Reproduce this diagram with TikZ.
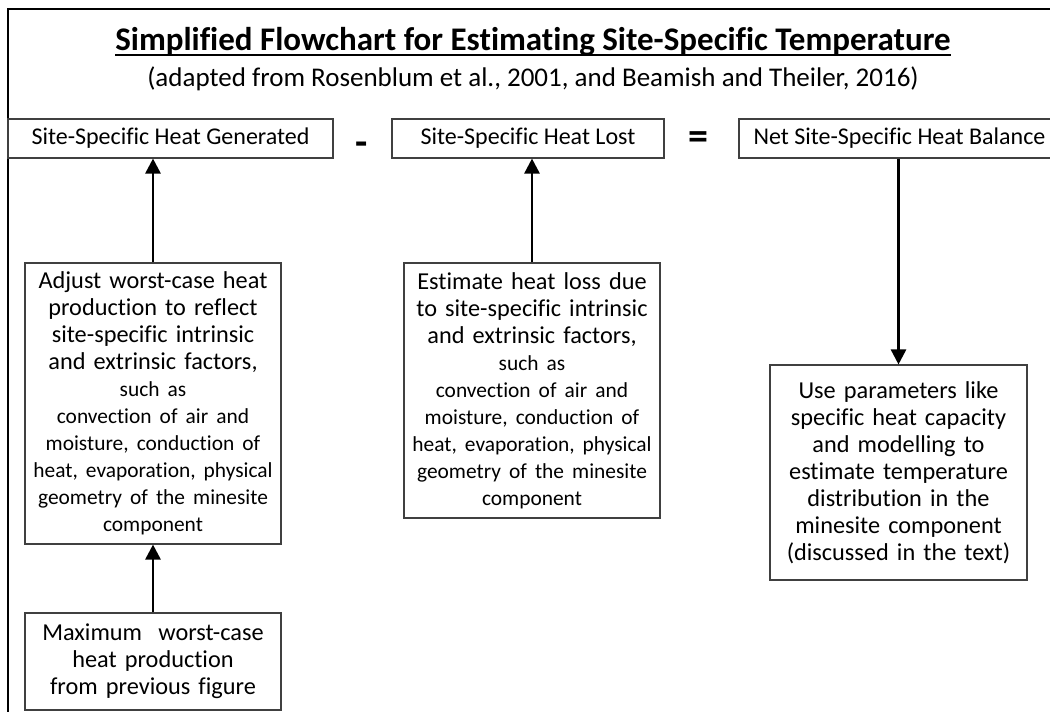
\documentclass[tikz,border=0pt]{standalone}
\usepackage{fontspec}
\setmainfont{Carlito}[Ligatures=NoCommon]
\usetikzlibrary{arrows.meta}

\tikzset{
  headbox/.style={draw=black!75,line width=1.1pt,minimum height=39pt,inner sep=0pt,font=\fontsize{24}{26.5}\selectfont},
  stepbox/.style={draw=black!75,line width=1.1pt,align=center,inner sep=0pt,text width=250pt,minimum width=256pt,font=\fontsize{24.3}{27}\selectfont},
  flow/.style={-{Triangle[length=15pt,width=15pt]},line width=2.6pt},
  sign/.style={font=\fontsize{40}{40}\selectfont\bfseries,inner sep=0pt},
}
\newcommand{\smalltxt}{\fontsize{21.4}{27}\selectfont}

\begin{document}
\begin{tikzpicture}[x=1pt,y=-1pt]
  \useasboundingbox (0,0) rectangle (1050,712);
  % frame
  \draw[line width=1.1pt] (8,720) -- (8,9) -- (1060,9);
  % title
  \node[anchor=base,font=\fontsize{33}{35}\selectfont\bfseries,inner sep=0pt] (title) at (533,50) {Simplified Flowchart for Estimating Site-Specific Temperature};
  \draw[line width=2.6pt] ([yshift=-5pt]title.base west) -- ([yshift=-5pt]title.base east);
  \node[anchor=base,font=\fontsize{27}{30}\selectfont,inner sep=0pt] (source) at (533,86) {(adapted from Rosenblum et al., 2001, and Beamish and Theiler, 2016)};
  % top row
  \node[headbox,minimum width=325pt] (gen) at (170.5,138.5) {Site-Specific Heat Generated};
  \node[sign] (minus) at (361.5,149) {-};
  \node[sign] (equal) at (698.5,141) {=};
  \node[headbox,minimum width=272pt] (lost) at (528,138.5) {Site-Specific Heat Lost};
  \node[headbox,minimum width=321pt] (net) at (899.5,138.5) {Net Site-Specific Heat Balance};
  % steps
  \node[stepbox,minimum height=281pt] (adjust) at (153,403.5) {Adjust worst-case heat\\production to reflect\\site-specific intrinsic\\and extrinsic factors,\\\smalltxt such as\\convection of air and\\moisture, conduction of\\heat, evaporation, physical\\geometry of the minesite\\component};
  \node[stepbox,minimum height=97pt] (maxheat) at (153,661.5) {Maximum\ \ worst-case\\heat production\\from previous figure};
  \node[stepbox,minimum height=255pt] (loss) at (532,390.5) {Estimate heat loss due\\to site-specific intrinsic\\and extrinsic factors,\\\smalltxt such as\\convection of air and\\moisture, conduction of\\heat, evaporation, physical\\geometry of the minesite\\component};
  \node[stepbox,minimum width=257pt,minimum height=215pt] (model) at (898.5,472.5) {Use parameters like\\specific heat capacity\\and modelling to\\estimate temperature\\distribution in the\\minesite component\\(discussed in the text)};
  % arrows
  \draw[flow] (maxheat.north) -- (adjust.south);
  \draw[flow] (adjust.north) -- (adjust.north |- gen.south);
  \draw[flow] (loss.north) -- (loss.north |- lost.south);
  \draw[flow] (model.north |- net.south) -- (model.north);
\end{tikzpicture}
\end{document}
